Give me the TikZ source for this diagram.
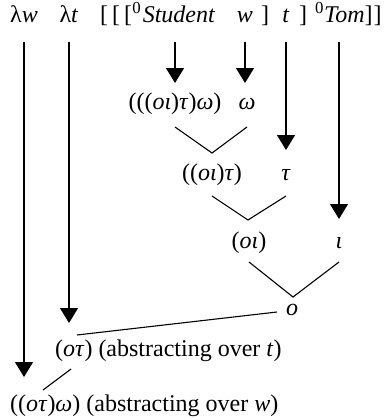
\documentclass[tikz,border=0pt]{standalone}
\usepackage{fontspec}
\setmainfont{Liberation Serif}
\usetikzlibrary{arrows.meta}
\begin{document}
\begin{tikzpicture}[x=1pt,y=-1pt,
  lbl/.style={anchor=base,inner sep=0pt,font=\fontsize{24}{26}\selectfont},
  arr/.style={line width=1.1pt,-{Triangle[width=18pt,length=15pt]}},
  ln/.style={line width=1.1pt}]
\useasboundingbox (0,0) rectangle (383,420);
% top row
\node[lbl] (lw) at (24,23) {λ\textit{w}};
\node[lbl] (lt) at (69,23) {λ\textit{t}};
\node[lbl] (stu) at (179,23) {\textit{Student}};
\node[lbl,anchor=base east] (zs) at ([xshift=-1pt]stu.base west) {\textsuperscript{0}};
\node[lbl,anchor=base east] (lb) at (zs.base west) {[\hspace{4pt}[\hspace{4pt}[};
\node[lbl] (w) at (245,23) {\textit{w}};
\node[lbl] (rb1) at (265,23) {]};
\node[lbl] (t) at (286,23) {\textit{t}};
\node[lbl] (rb2) at (303,23) {]};
\node[lbl,anchor=base west] (tom) at (315,23) {\textsuperscript{0}\textit{Tom}]\kern1pt]};
% rows
\node[lbl] (a1) at (175,109) {(((\textit{ο}\textit{ι})\textit{τ})\textit{ω})};
\node[lbl] (a2) at (247,109) {\textit{ω}};
\node[lbl] (b1) at (212,180) {((\textit{ο}\textit{ι})\textit{τ})};
\node[lbl] (b2) at (286,180) {\textit{τ}};
\node[lbl] (c1) at (249,248) {(\textit{ο}\textit{ι})};
\node[lbl] (c2) at (339,248) {\textit{ι}};
\node[lbl] (d) at (292,315) {\textit{ο}};
\node[lbl,anchor=base west] (e) at (55,356) {(\textit{ο}\textit{τ}) (abstracting over \textit{t})};
\node[lbl,anchor=base west] (f) at (10,411) {((\textit{ο}\textit{τ})\textit{ω}) (abstracting over \textit{w})};
% arrows
\draw[arr] (lw |- 0,42) -- (lw |- 0,377);
\draw[arr] (lt |- 0,42) -- (lt |- 0,323);
\draw[arr] (175,42) -- (175,83);
\draw[arr] (w |- 0,42) -- (w |- 0,83);
\draw[arr] (t |- 0,42) -- (t |- 0,150);
\draw[arr] (c2 |- 0,42) -- (c2 |- 0,219);
% joins
\draw[ln] (a1 |- 0,127) -- (212,153) -- (a2 |- 0,127);
\draw[ln] (b1 |- 0,196) -- (248,220) -- (b2 |- 0,196);
\draw[ln] (c1 |- 0,262) -- (293,297) -- (c2 |- 0,262);
\draw[ln] (277,312) -- (77,335);
\draw[ln] (71,369) -- (43,390);
\end{tikzpicture}
\end{document}
